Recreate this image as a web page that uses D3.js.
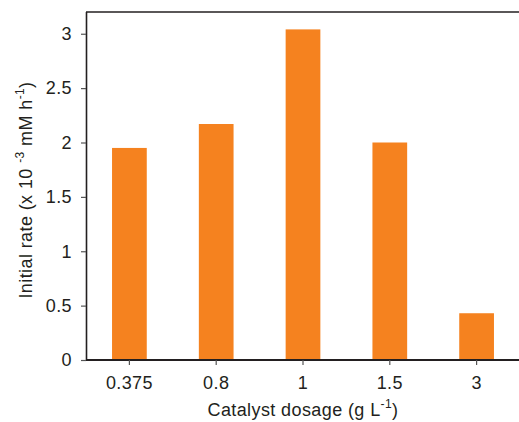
<!DOCTYPE html>
<html>
<head>
<meta charset="utf-8">
<script src="https://cdn.jsdelivr.net/npm/d3@7"></script>
<style>
  html, body { margin: 0; padding: 0; background: #fff; }
  svg { display: block; }
  text { font-family: "Liberation Sans", Arial, sans-serif; fill: #231f20; letter-spacing: 0.4px; }
</style>
</head>
<body>
<svg id="chart" width="519" height="422"></svg>
<script>
// Catalyst dosage (g/L) and the initial rate measured for each
const categories = ["0.375", "0.8", "1", "1.5", "3"];
const rates = [1.95, 2.17, 3.04, 2.00, 0.43];
const yTicks = [0, 0.5, 1, 1.5, 2, 2.5, 3];

const svg = d3.select("#chart");
const plotLeft = 86, plotRight = 520, plotTop = 12, plotBottom = 360;
const fontSize = 18;

const x = d3.scaleBand().domain(categories).range([plotLeft, plotRight]).paddingInner(0.6).paddingOuter(0.3);
const y = d3.scaleLinear().domain([0, 3.2]).range([plotBottom, plotTop]);

// bars
svg.append("g").selectAll("rect")
  .data(categories.map((c, i) => ({ c, v: rates[i] })))
  .join("rect")
  .attr("x", d => x(d.c))
  .attr("y", d => y(d.v))
  .attr("width", x.bandwidth())
  .attr("height", d => y(0) - y(d.v))
  .attr("fill", "#f5821f");

// frame top edge
svg.append("line")
  .attr("x1", plotLeft).attr("x2", plotRight)
  .attr("y1", plotTop).attr("y2", plotTop)
  .attr("stroke", "#231f20").attr("stroke-width", 1.4);

// y axis
const yAxis = svg.append("g")
  .attr("transform", `translate(${plotLeft},0)`)
  .call(d3.axisLeft(y).tickValues(yTicks).tickFormat(d3.format("")).tickSize(5).tickSizeOuter(0));
yAxis.select(".domain").attr("stroke", "#231f20").attr("stroke-width", 1.6)
  .attr("d", `M0.5,${plotTop}V${plotBottom}`);
yAxis.selectAll(".tick line").attr("stroke", "#555").attr("stroke-width", 1.2);
yAxis.selectAll(".tick text").attr("font-size", fontSize).attr("x", -14)
  .style("font-family", "'Liberation Sans', Arial, sans-serif").attr("fill", "#231f20");

// x axis
const xAxis = svg.append("g")
  .attr("transform", `translate(0,${plotBottom})`)
  .call(d3.axisBottom(x).tickSize(5).tickSizeOuter(0));
xAxis.select(".domain").attr("stroke", "#231f20").attr("stroke-width", 2)
  .attr("d", `M${plotLeft},0H${plotRight}`);
xAxis.selectAll(".tick line").attr("stroke", "#555").attr("stroke-width", 1.2);
xAxis.selectAll(".tick text").attr("font-size", fontSize).attr("y", 16)
  .style("font-family", "'Liberation Sans', Arial, sans-serif").attr("fill", "#231f20");

// x axis title
const xt = svg.append("text")
  .attr("x", (plotLeft + plotRight) / 2).attr("y", 416)
  .attr("text-anchor", "middle").attr("font-size", fontSize);
xt.append("tspan").text("Catalyst dosage (g L");
xt.append("tspan").attr("dy", -8).attr("font-size", 12).text("-1");
xt.append("tspan").attr("dy", 8).text(")");

// y axis title
const yt = svg.append("text")
  .attr("transform", `translate(32,${(plotTop + plotBottom) / 2 + 4}) rotate(-90)`)
  .attr("text-anchor", "middle").attr("font-size", fontSize);
yt.append("tspan").text("Initial rate (x 10 ");
yt.append("tspan").attr("dy", -8).attr("font-size", 12).text("-3");
yt.append("tspan").attr("dy", 8).text(" mM h");
yt.append("tspan").attr("dy", -8).attr("font-size", 12).text("-1");
yt.append("tspan").attr("dy", 8).text(")");
</script>
</body>
</html>
